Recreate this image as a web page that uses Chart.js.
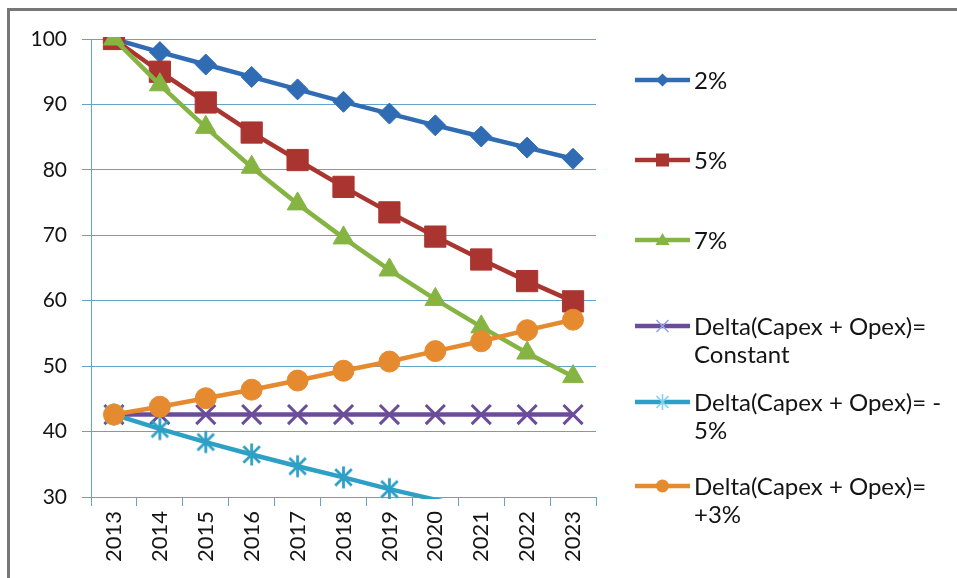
<!DOCTYPE html>
<html>
<head>
<meta charset="utf-8">
<script src="https://cdn.jsdelivr.net/npm/chart.js@4.4.1/dist/chart.umd.min.js"></script>
<style>
  html, body { margin: 0; padding: 0; background: #fff; }
  #wrap { position: relative; width: 957px; height: 578px; overflow: hidden; font-family: Lato, "Open Sans", sans-serif; }
  #frame { position: absolute; left: 7px; top: 8px; right: 0; bottom: 0; border-top: 3px solid #777; border-left: 3px solid #777; }
  #c { position: absolute; left: 0; top: 0; }
  .lg-text { position: absolute; left: 694px; font-size: 24px; line-height: 27.5px; color: #141414; white-space: pre; }
  .lg-swatch { position: absolute; left: 632px; }
</style>
</head>
<body>
<div id="wrap">
  <div id="frame"></div>
  <canvas id="c" width="957" height="578"></canvas>
  <div id="legend"></div>
</div>
<script>
// Categories
const YEARS = ['2013', '2014', '2015', '2016', '2017', '2018', '2019', '2020', '2021', '2022', '2023'];

// Series values
const RATE_2 = [100, 98.0, 96.1, 94.2, 92.3, 90.4, 88.6, 86.8, 85.1, 83.4, 81.7];
const RATE_5 = [100, 95.0, 90.3, 85.7, 81.5, 77.4, 73.5, 69.8, 66.3, 63.0, 59.9];
const RATE_7 = [100, 93.0, 86.5, 80.4, 74.8, 69.6, 64.7, 60.2, 56.0, 52.0, 48.4];
const DELTA_CONST = [42.6, 42.6, 42.6, 42.6, 42.6, 42.6, 42.6, 42.6, 42.6, 42.6, 42.6];
const DELTA_MINUS5 = [42.6, 40.4, 38.4, 36.5, 34.7, 33.0, 31.2, 29.6, 28.2, 26.8, 25.4];
const DELTA_PLUS3 = [42.6, 43.8, 45.1, 46.4, 47.8, 49.3, 50.7, 52.3, 53.8, 55.5, 57.1];

// Series names
const NAMES = ['2%', '5%', '7%',
  'Delta(Capex + Opex)=\nConstant',
  'Delta(Capex + Opex)= -\n5%',
  'Delta(Capex + Opex)=\n+3%'];

// Value axis ticks
const Y_MIN = 30, Y_MAX = 100, Y_STEP = 10;

const COLORS = ['#2f6cb3', '#aa3530', '#86b443', '#6b4c9b', '#2ea0c5', '#e58a2f'];
const LEGEND_MARK = ['#2f6cb3', '#aa3530', '#86b443', '#93a4e6', '#86d0f0', '#e58a2f'];
const GRID = '#62a4c8';
const TEXT = '#141414';

// Asterisk marker: vertical stroke plus an X
function makeAsterisk(color, size, lw) {
  const cv = document.createElement('canvas');
  cv.width = size; cv.height = size;
  const g = cv.getContext('2d');
  const m = size / 2, r = size / 2 - 1.5, d = r * 0.75;
  g.strokeStyle = color; g.lineWidth = lw; g.lineCap = 'butt';
  g.beginPath();
  g.moveTo(m, m - r); g.lineTo(m, m + r);
  g.moveTo(m - d, m - d); g.lineTo(m + d, m + d);
  g.moveTo(m + d, m - d); g.lineTo(m - d, m + d);
  g.stroke();
  return cv;
}

const SERIES = [RATE_2, RATE_5, RATE_7, DELTA_CONST, DELTA_MINUS5, DELTA_PLUS3];
const STYLES = [
  { pointStyle: 'rectRot', r: 10.5 },
  { pointStyle: 'rect', r: 15 },
  { pointStyle: 'triangle', r: 12 },
  { pointStyle: 'crossRot', r: 13.5, bw: 3 },
  { pointStyle: makeAsterisk(COLORS[4], 25, 2.8), r: 11 },
  { pointStyle: 'circle', r: 10.5 }
];

const datasets = SERIES.map((vals, i) => ({
  label: NAMES[i],
  data: vals,
  borderColor: COLORS[i],
  backgroundColor: COLORS[i],
  borderWidth: 4.5,
  pointStyle: STYLES[i].pointStyle,
  pointRadius: c => (c.raw < Y_MIN ? 0 : STYLES[i].r),
  pointBorderWidth: STYLES[i].bw || 1,
  pointBorderColor: COLORS[i],
  pointBackgroundColor: COLORS[i],
  tension: 0,
  order: SERIES.length - 1 - i,
  clip: { left: 2, right: 2, top: 2, bottom: 2 }
}));

new Chart(document.getElementById('c'), {
  type: 'line',
  data: { labels: YEARS, datasets },
  options: {
    responsive: false,
    animation: false,
    events: [],
    layout: { padding: { left: 0, top: 39, right: 361, bottom: 0 } },
    plugins: { legend: { display: false }, tooltip: { enabled: false } },
    scales: {
      x: {
        offset: true,
        grid: { offset: true, drawOnChartArea: false, drawTicks: true, tickLength: 9, color: GRID, lineWidth: 1 },
        border: { color: GRID, width: 1 },
        ticks: {
          autoSkip: false, minRotation: 90, maxRotation: 90, padding: 5,
          color: TEXT, font: { family: 'Lato', size: 22 }
        },
        afterFit: s => { s.height = 81; }
      },
      y: {
        min: Y_MIN, max: Y_MAX,
        grid: { drawTicks: true, tickLength: 9, color: GRID, lineWidth: 1 },
        border: { color: GRID, width: 1 },
        ticks: {
          stepSize: Y_STEP, padding: 15,
          color: TEXT, font: { family: 'Lato', size: 21 }
        },
        afterFit: s => { s.width = 91; }
      }
    }
  }
});

// Legend on the right
const LEGEND_ROWS = [80, 160, 240, 326, 402, 486];
const NS = 'http://www.w3.org/2000/svg';
function swatch(i) {
  const svg = document.createElementNS(NS, 'svg');
  svg.setAttribute('width', 62); svg.setAttribute('height', 30);
  const c = COLORS[i], mc = LEGEND_MARK[i];
  let h = `<line x1="3" y1="15" x2="58" y2="15" stroke="${c}" stroke-width="4.5"/>`;
  const x = 30.5, y = 15;
  if (i === 0) h += `<polygon points="${x},${y-6.5} ${x+6.5},${y} ${x},${y+6.5} ${x-6.5},${y}" fill="${mc}"/>`;
  if (i === 1) h += `<rect x="${x-6.5}" y="${y-6.5}" width="13" height="13" fill="${mc}"/>`;
  if (i === 2) h += `<polygon points="${x},${y-7} ${x+7},${y+5} ${x-7},${y+5}" fill="${mc}"/>`;
  if (i === 3) h += `<path d="M${x-6},${y-6}L${x+6},${y+6}M${x+6},${y-6}L${x-6},${y+6}" stroke="${mc}" stroke-width="1.6"/>`;
  if (i === 4) h += `<path d="M${x},${y-8}L${x},${y+8}M${x-6},${y-6}L${x+6},${y+6}M${x+6},${y-6}L${x-6},${y+6}" stroke="${mc}" stroke-width="1.6"/>`;
  if (i === 5) h += `<circle cx="${x}" cy="${y}" r="6.5" fill="${mc}"/>`;
  svg.innerHTML = h;
  return svg;
}
const legend = document.getElementById('legend');
NAMES.forEach((name, i) => {
  const sw = swatch(i);
  sw.setAttribute('class', 'lg-swatch');
  sw.style.top = (LEGEND_ROWS[i] - 15) + 'px';
  legend.appendChild(sw);
  const t = document.createElement('div');
  t.className = 'lg-text';
  t.textContent = name;
  t.style.top = (LEGEND_ROWS[i] - 14) + 'px';
  legend.appendChild(t);
});
</script>
</body>
</html>
